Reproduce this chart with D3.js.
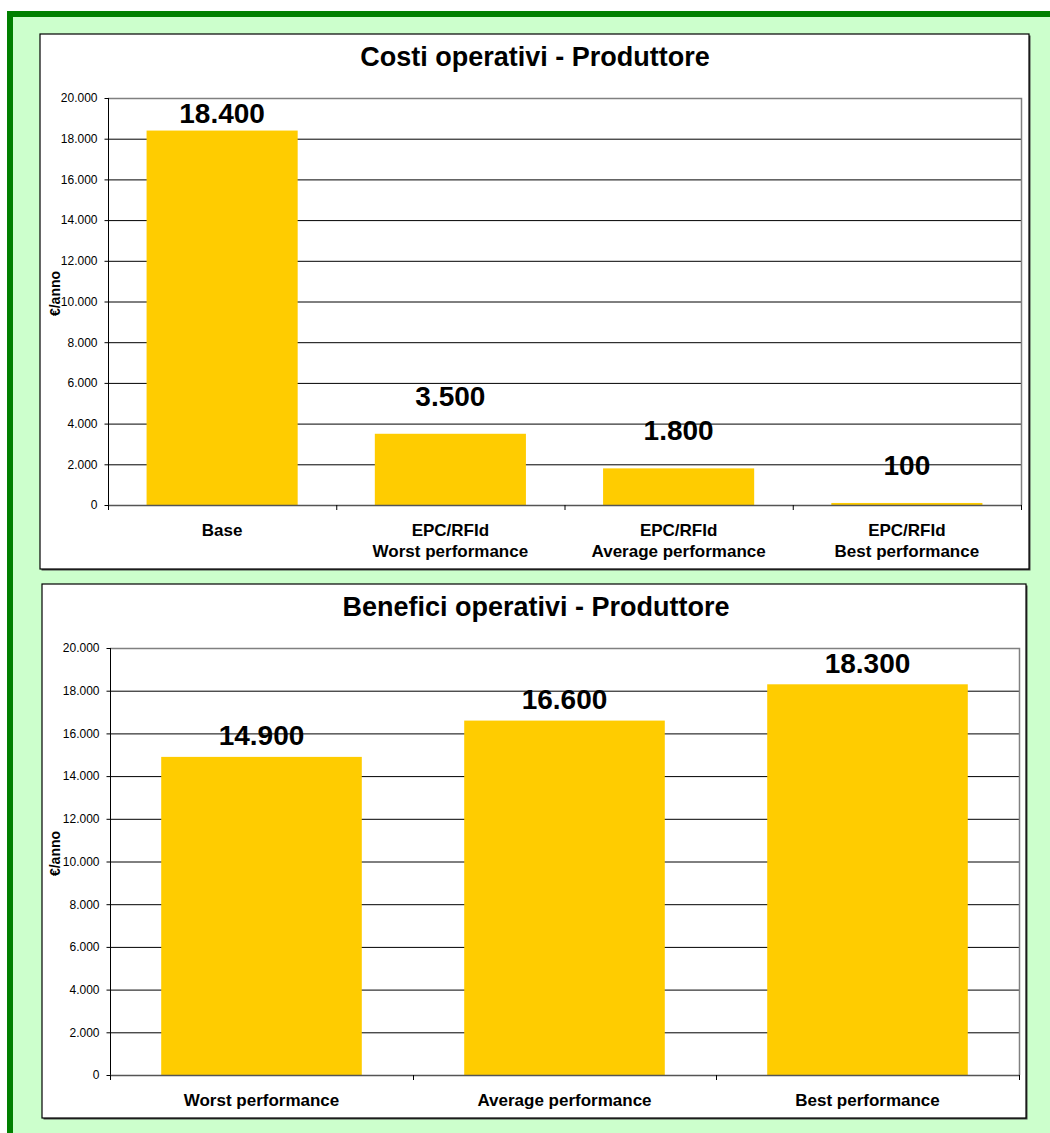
<!DOCTYPE html>
<html>
<head>
<meta charset="utf-8">
<script src="https://cdn.jsdelivr.net/npm/d3@7"></script>
<style>
  html, body { margin: 0; padding: 0; background: #ffffff; }
  svg { display: block; font-family: Arial, "Liberation Sans", sans-serif; }
</style>
</head>
<body>
<script>
// ---- data ----
const costCategories = [["Base"], ["EPC/RFId", "Worst performance"], ["EPC/RFId", "Average performance"], ["EPC/RFId", "Best performance"]];
const costValues = [18400, 3500, 1800, 100];
const benefitCategories = [["Worst performance"], ["Average performance"], ["Best performance"]];
const benefitValues = [14900, 16600, 18300];
const yTickValues = [0, 2000, 4000, 6000, 8000, 10000, 12000, 14000, 16000, 18000, 20000];
const yDomain = [0, 20000];
const chartTitles = ["Costi operativi - Produttore", "Benefici operativi - Produttore"];
const yAxisLabel = "€/anno";

const W = 1050, H = 1133;
const svg = d3.select("body").append("svg").attr("width", W).attr("height", H);

const fmt = v => d3.format(",")(v).replace(/,/g, ".");

// outer frame
svg.append("rect").attr("x", 10).attr("y", 14).attr("width", 1100).attr("height", 1200)
  .attr("fill", "#CCFFCC").attr("stroke", "#008000").attr("stroke-width", 6);

function drawChart(cfg) {
  const g = svg.append("g");
  // shadow
  g.append("rect").attr("x", cfg.box[0] + 1.5).attr("y", cfg.box[1] + 1.5)
    .attr("width", cfg.box[2] - cfg.box[0]).attr("height", cfg.box[3] - cfg.box[1])
    .attr("fill", "#444");
  g.append("rect").attr("x", cfg.box[0]).attr("y", cfg.box[1])
    .attr("width", cfg.box[2] - cfg.box[0]).attr("height", cfg.box[3] - cfg.box[1])
    .attr("fill", "#fff").attr("stroke", "#000").attr("stroke-width", 1.2);

  const [px0, py0, px1, py1] = cfg.plot;
  const x = d3.scaleBand().domain(d3.range(cfg.values.length)).range([px0, px1])
    .paddingInner(0.338).paddingOuter(0.169);
  const y = d3.scaleLinear().domain(yDomain).range([py1, py0]);

  // gridlines
  g.append("g").selectAll("line").data(yTickValues.filter(v => v > 0 && v < 20000)).join("line")
    .attr("x1", px0).attr("x2", px1).attr("y1", d => y(d) + 0.5).attr("y2", d => y(d) + 0.5)
    .attr("stroke", "#000").attr("stroke-width", 1);
  // plot border top/right
  g.append("path").attr("d", `M${px0},${py0 + 0.5}H${px1 + 0.5}V${py1}`)
    .attr("fill", "none").attr("stroke", "#808080").attr("stroke-width", 1.5);

  // bars
  g.append("g").selectAll("rect").data(cfg.values).join("rect")
    .attr("x", (d, i) => x(i)).attr("width", x.bandwidth())
    .attr("y", d => y(d)).attr("height", d => y(0) - y(d))
    .attr("fill", "#FFCC00");

  // y axis
  const yAxis = d3.axisLeft(y).tickValues(yTickValues).tickFormat(fmt).tickSize(4).tickPadding(7);
  const ya = g.append("g").attr("transform", `translate(${px0 + 0.5},0)`).call(yAxis);
  ya.select(".domain").attr("stroke", "#000").attr("d", `M0,${py0}V${py1 + 4}`);
  ya.selectAll(".tick line").attr("stroke", "#000");
  ya.selectAll("text").attr("font-size", "12px").attr("fill", "#000")
    .attr("font-family", "Arial, 'Liberation Sans', sans-serif");

  // x axis
  const xEdges = d3.range(cfg.values.length + 1).map(i => px0 + i * (px1 - px0) / cfg.values.length);
  g.append("line").attr("x1", px0).attr("x2", px1 + 1).attr("y1", py1 + 0.5).attr("y2", py1 + 0.5)
    .attr("stroke", "#555").attr("stroke-width", 1.5);
  g.append("g").selectAll("line").data(xEdges).join("line")
    .attr("x1", d => d + 0.5).attr("x2", d => d + 0.5).attr("y1", py1).attr("y2", py1 + 5)
    .attr("stroke", "#000");

  // category labels
  const cl = g.append("g").selectAll("text").data(cfg.categories).join("text")
    .attr("x", (d, i) => x(i) + x.bandwidth() / 2)
    .attr("y", cfg.catY)
    .attr("text-anchor", "middle").attr("font-weight", "bold").attr("font-size", "17px");
  cl.each(function(d) {
    const t = d3.select(this);
    d.forEach((line, k) => t.append("tspan").attr("x", t.attr("x")).attr("dy", k === 0 ? 0 : 21).text(line));
  });

  // value labels
  g.append("g").selectAll("text").data(cfg.values).join("text")
    .attr("x", (d, i) => x(i) + x.bandwidth() / 2)
    .attr("y", d => Math.max(y(d) - cfg.labelGap, py0 + 25))
    .attr("text-anchor", "middle").attr("font-weight", "bold").attr("font-size", "28px")
    .text(fmt);

  // title
  g.append("text").attr("x", cfg.titleX).attr("y", cfg.titleY).attr("text-anchor", "middle")
    .attr("font-weight", "bold").attr("font-size", "27px").text(cfg.title);

  // y label
  g.append("text").attr("transform", `translate(60,${(py0 + py1) / 2 - 8}) rotate(-90)`)
    .attr("text-anchor", "middle").attr("font-weight", "bold").attr("font-size", "14px")
    .text(yAxisLabel);
}

drawChart({
  box: [40, 34, 1029, 569],
  plot: [108, 98, 1021, 505],
  values: costValues,
  categories: costCategories,
  catY: 536,
  labelGap: 28,
  title: chartTitles[0],
  titleX: 535, titleY: 66
});

drawChart({
  box: [42, 584, 1026, 1118],
  plot: [110, 648, 1019, 1075],
  values: benefitValues,
  categories: benefitCategories,
  catY: 1106,
  labelGap: 12,
  title: chartTitles[1],
  titleX: 536, titleY: 616
});
</script>
</body>
</html>
